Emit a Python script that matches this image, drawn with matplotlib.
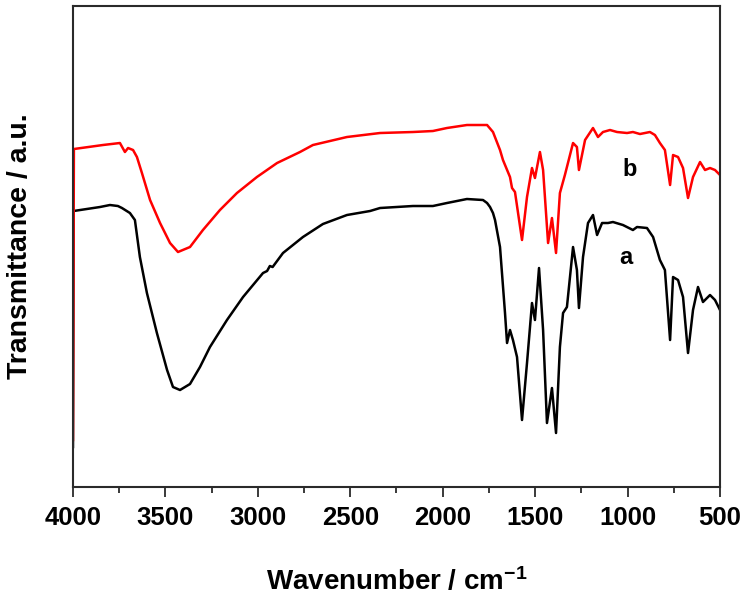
import matplotlib
matplotlib.use("Agg")
import matplotlib.pyplot as plt
from matplotlib.ticker import MultipleLocator

plt.rcParams['font.family'] = ['Liberation Sans', 'DejaVu Sans']
plt.rcParams['font.weight'] = 'bold'
plt.rcParams['mathtext.fontset'] = 'custom'
plt.rcParams['mathtext.rm'] = 'Liberation Sans:bold'
plt.rcParams['mathtext.bf'] = 'Liberation Sans:bold'
plt.rcParams['mathtext.default'] = 'bf'

# Spectrum a (black)
wn_a = [4000, 3997, 3854, 3800, 3757, 3735, 3692, 3665, 3638, 3600, 3546, 3491,
        3459, 3421, 3367, 3313, 3259, 3167, 3080, 2972, 2950, 2935, 2920, 2864,
        2756, 2648, 2518, 2393, 2339, 2161, 2053, 1977, 1869, 1782, 1760, 1744,
        1728, 1717, 1690, 1663, 1652, 1636, 1620, 1598, 1571, 1544, 1517, 1501,
        1479, 1457, 1436, 1409, 1387, 1366, 1349, 1328, 1295, 1274, 1263, 1241,
        1214, 1187, 1165, 1138, 1106, 1079, 1025, 971, 949, 895, 862, 825, 798,
        770, 754, 727, 700, 673, 646, 619, 592, 554, 527, 500]
t_a = [40, 276, 280, 282, 281, 279, 274, 267, 230, 194, 154, 117,
       100, 97, 103, 120, 140, 167, 190, 214, 216, 221, 220, 234,
       250, 263, 272, 276, 279, 281, 281, 284, 288, 287, 284, 280,
       274, 267, 240, 174, 144, 157, 147, 130, 67, 124, 184, 167,
       219, 157, 64, 99, 54, 140, 174, 180, 240, 217, 179, 230,
       264, 272, 252, 264, 264, 265, 262, 257, 260, 259, 250, 227, 217,
       147, 210, 207, 190, 134, 177, 200, 185, 192, 187, 177]

# Spectrum b (red)
wn_b = [4000, 3995, 3838, 3746, 3719, 3702, 3675, 3654, 3627, 3583, 3529, 3475,
        3432, 3367, 3297, 3205, 3113, 3005, 2896, 2772, 2702, 2518, 2339, 2161,
        2053, 1977, 1869, 1760, 1728, 1690, 1674, 1636, 1625, 1609, 1571, 1544,
        1517, 1501, 1474, 1457, 1430, 1409, 1387, 1366, 1339, 1295, 1274, 1263,
        1230, 1187, 1160, 1133, 1095, 1057, 1003, 971, 933, 879, 852, 825, 798,
        770, 754, 727, 700, 673, 646, 608, 581, 554, 527, 500]
t_b = [47, 338, 342, 344, 335, 339, 337, 330, 314, 287, 264, 244,
       235, 240, 257, 277, 294, 310, 324, 335, 342, 350, 354, 355,
       356, 359, 362, 362, 355, 337, 327, 310, 299, 295, 247, 290,
       319, 309, 335, 317, 244, 269, 234, 294, 312, 344, 340, 317,
       347, 359, 350, 355, 357, 355, 354, 355, 353, 355, 352, 344, 337,
       302, 332, 330, 319, 289, 310, 325, 317, 319, 317, 312]

labels = ['a', 'b']
label_pos = [(1008, 230), (987, 318)]
xticks = [4000, 3500, 3000, 2500, 2000, 1500, 1000, 500]

fig = plt.figure(figsize=(7.5, 5.95), dpi=100)
ax = fig.add_axes([0.0973, 0.1815, 0.8627, 0.8084])

ax.plot(wn_a, t_a, color='black', lw=1.8, solid_joinstyle='round')
ax.plot(wn_b, t_b, color='#ff0000', lw=1.8, solid_joinstyle='round')

for lab, (x, y) in zip(labels, label_pos):
    ax.text(x, y, lab, fontsize=17, fontweight='bold', ha='center', va='center')

ax.set_xlim(4000, 500)
ax.set_ylim(0, 481)
ax.set_xticks(xticks)
ax.xaxis.set_minor_locator(MultipleLocator(250))
ax.set_yticks([])

for sp in ax.spines.values():
    sp.set_linewidth(1.5)
    sp.set_color('#2a2a2a')

ax.tick_params(axis='x', which='major', direction='out', length=7.5, width=1.3,
               color='#2a2a2a', labelsize=18.5, pad=6)
ax.tick_params(axis='x', which='minor', direction='out', length=4, width=1.3,
               color='#2a2a2a')
ax.tick_params(axis='x', top=False)
for lbl in ax.get_xticklabels():
    lbl.set_fontweight('bold')

ax.set_xlabel(r'Wavenumber / cm$^{-1}$', fontsize=20, fontweight='bold', labelpad=27)
ax.set_ylabel('Transmittance / a.u.', fontsize=20.5, fontweight='bold', labelpad=29)

fig.savefig('out.png', dpi=100)
